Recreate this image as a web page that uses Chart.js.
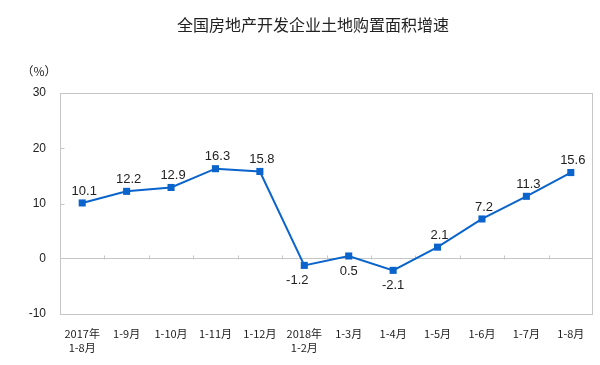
<!DOCTYPE html>
<html><head><meta charset="utf-8">
<script src="https://cdn.jsdelivr.net/npm/chart.js@4"></script>
<style>html,body{margin:0;padding:0;background:#fff}#wrap{width:600px;height:365px}</style>
</head><body><div id="wrap"><canvas id="c" width="600" height="365"></canvas></div>
<script>
const chartTitle = '全国房地产开发企业土地购置面积增速';
const unitLabel = '（%）';
const categories = [['2017年','1-8月'],'1-9月','1-10月','1-11月','1-12月',['2018年','1-2月'],'1-3月','1-4月','1-5月','1-6月','1-7月','1-8月'];
const growth = [10.1,12.2,12.9,16.3,15.8,-1.2,0.5,-2.1,2.1,7.2,11.3,15.6];
const yTicks = [-10,0,10,20,30];

const LINE = '#0a64cc';
const GRID = '#c6c6c6';

const decor = {
  id: 'decor',
  beforeDatasetsDraw(chart) {
    const {ctx, chartArea: a, scales: {x, y}} = chart;
    ctx.save();
    ctx.strokeStyle = GRID; ctx.lineWidth = 1;
    const L = Math.round(a.left) + 0.5;
    ctx.strokeRect(L, Math.round(a.top) + 0.5, Math.round(a.right - a.left) - 1, Math.round(a.bottom - a.top));
    const y0 = Math.round(y.getPixelForValue(0)) + 0.5;
    ctx.beginPath();
    for (let i = 1; i < categories.length; i++) {
      const xp = Math.round((x.getPixelForValue(i - 1) + x.getPixelForValue(i)) / 2) + 0.5;
      ctx.moveTo(xp, y0 - 4); ctx.lineTo(xp, y0);
    }
    yTicks.forEach(v => {
      if (v === 0) return;
      const yp = Math.round(y.getPixelForValue(v)) + 0.5;
      ctx.moveTo(L, yp); ctx.lineTo(L + 4, yp);
    });
    ctx.stroke();
    ctx.restore();
  },
  afterDraw(chart) {
    const {ctx} = chart;
    ctx.save();
    ctx.fillStyle = '#222';
    ctx.textAlign = 'center'; ctx.textBaseline = 'middle';
    ctx.font = '16px "Noto Sans CJK SC"';
    ctx.fillText(chartTitle, 313, 25);
    ctx.font = '12px "Noto Sans CJK SC"';
    ctx.fillText(unitLabel, 39, 71);
    const meta = chart.getDatasetMeta(0);
    ctx.font = '13px "Liberation Sans", Arial';
    ctx.fillStyle = '#222';
    meta.data.forEach((pt, i) => {
      const v = growth[i];
      const below = v < 1;
      const dx = (v < 0 && i === 5) ? -7 : 0;
      ctx.fillText(v.toFixed(1), pt.x + dx + (below ? 0 : 2), below ? pt.y + 15 : pt.y - 12);
    });
    ctx.restore();
  }
};

new Chart(document.getElementById('c'), {
  type: 'line',
  data: {
    labels: categories,
    datasets: [{
      data: growth,
      borderColor: LINE,
      backgroundColor: LINE,
      borderWidth: 2,
      pointStyle: 'rect',
      pointRadius: 5,
      pointBackgroundColor: LINE,
      pointBorderColor: LINE,
      pointBorderWidth: 0,
      tension: 0,
      fill: false
    }]
  },
  options: {
    responsive: false,
    animation: false,
    layout: {padding: {left: 0, right: 7, top: 93, bottom: 0}},
    plugins: {legend: {display: false}, tooltip: {enabled: false}, title: {display: false}},
    scales: {
      x: {
        offset: true,
        grid: {display: false, drawTicks: false},
        border: {display: false},
        ticks: {
          autoSkip: false, maxRotation: 0, minRotation: 0,
          padding: 13,
          color: '#222',
          font: {family: '"Noto Sans CJK SC"', size: 11, lineHeight: '14px'}
        },
        afterFit(s) { s.height = 51; }
      },
      y: {
        min: -10, max: 30,
        afterBuildTicks(s) { s.ticks = yTicks.map(v => ({value: v})); },
        grid: {
          color: c => (c.tick && c.tick.value === 0) ? GRID : 'rgba(0,0,0,0)',
          drawTicks: false
        },
        border: {display: false},
        ticks: {
          padding: 14,
          color: '#222',
          font: {family: '"Liberation Sans", Arial, sans-serif', size: 12}
        },
        afterFit(s) { s.width = 60; }
      }
    }
  },
  plugins: [decor]
});
</script>
</body></html>
